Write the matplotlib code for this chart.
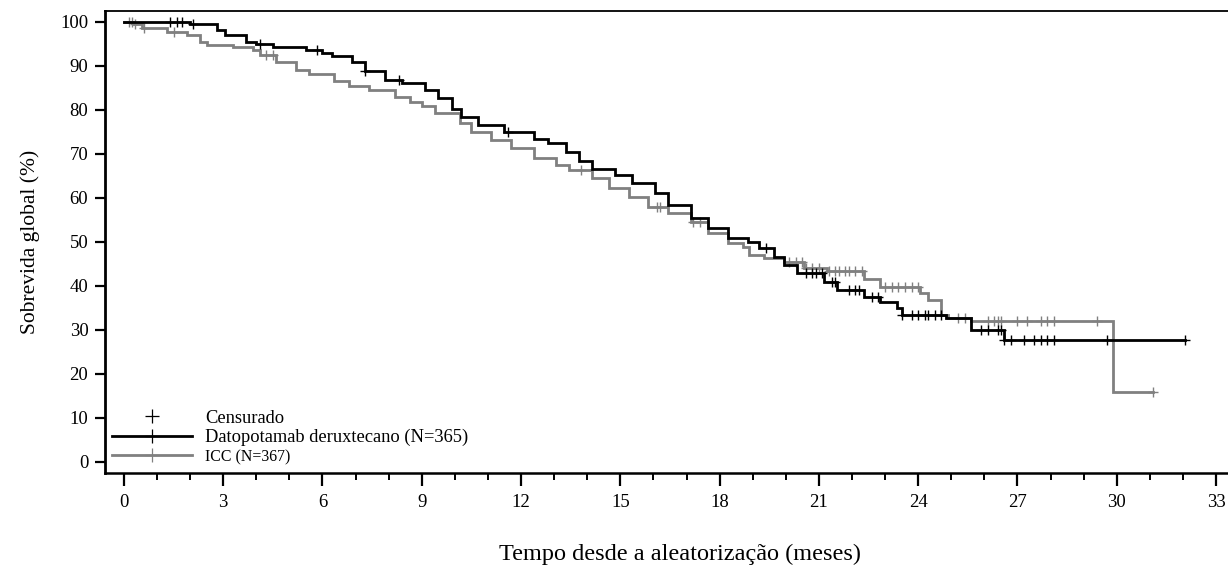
import numpy as np
import matplotlib
matplotlib.use("Agg")
import matplotlib.pyplot as plt
from matplotlib.lines import Line2D
from matplotlib.ticker import MultipleLocator

# ---- data (months, overall survival %) ----
t_dato = [0, 2.0, 2.8, 3.05, 3.7, 4.0, 4.5, 5.5, 6.0, 6.3, 6.9, 7.3, 7.9, 8.4, 9.1, 9.5,
          9.9, 10.2, 10.7, 11.5, 12.4, 12.8, 13.35, 13.75, 14.15, 14.85, 15.35, 16.05,
          16.45, 17.15, 17.65, 18.25, 18.85, 19.2, 19.65, 19.95, 20.35, 21.15, 21.55,
          22.35, 22.85, 23.35, 23.5, 24.85, 25.6, 26.6, 32.05]
s_dato = [100, 99.5, 98.2, 97.0, 95.5, 95.0, 94.4, 93.7, 92.9, 92.2, 90.8, 88.9, 86.8, 86.1,
          84.5, 82.7, 80.2, 78.5, 76.6, 75.1, 73.3, 72.4, 70.5, 68.3, 66.7, 65.2, 63.3, 61.1,
          58.4, 55.4, 53.1, 50.8, 49.9, 48.6, 46.7, 44.8, 42.9, 41.0, 39.1, 37.6, 36.4, 34.9,
          33.4, 32.7, 30.0, 27.7, 27.7]
c_dato = [1.4, 1.6, 1.75, 2.1, 4.1, 5.85, 7.3, 8.3, 11.6, 19.4, 20.6, 20.8, 20.9, 21.1,
          21.4, 21.5, 21.9, 22.1, 22.2, 22.6, 22.8, 23.5, 23.8, 24.0, 24.2, 24.3, 24.5,
          24.7, 25.9, 26.1, 26.4, 26.5, 26.6, 26.8, 27.2, 27.5, 27.7, 27.9, 28.1, 29.7, 32.05]

t_icc = [0, 0.27, 0.55, 1.3, 1.9, 2.3, 2.5, 3.3, 3.9, 4.1, 4.6, 5.2, 5.6, 6.35, 6.8, 7.4,
         8.2, 8.65, 9.0, 9.4, 10.15, 10.5, 11.1, 11.7, 12.4, 13.05, 13.45, 14.15, 14.65,
         15.25, 15.85, 16.45, 17.15, 17.65, 18.25, 18.7, 18.9, 19.35, 19.95, 20.55, 21.25,
         22.35, 22.85, 24.05, 24.3, 24.7, 24.9, 25.6, 29.9, 31.1]
s_icc = [100, 99.5, 98.6, 97.8, 97.0, 95.5, 94.8, 94.3, 93.6, 92.5, 91.0, 89.1, 88.2, 86.6,
         85.5, 84.5, 83.0, 81.8, 80.8, 79.4, 77.0, 75.1, 73.2, 71.4, 69.1, 67.5, 66.4, 64.5,
         62.2, 60.3, 58.0, 56.5, 54.6, 52.0, 49.7, 48.9, 47.0, 46.3, 45.5, 44.2, 43.5, 41.7,
         39.8, 38.4, 36.8, 33.4, 32.7, 32.0, 16.0, 16.0]
c_icc = [0.15, 0.25, 0.35, 0.6, 1.5, 4.3, 4.5, 13.8, 16.1, 16.2, 17.2, 17.4, 20.1, 20.3,
         20.5, 20.6, 20.8, 21.0, 21.3, 21.5, 21.6, 21.8, 21.9, 22.1, 22.3, 23.0, 23.2,
         23.4, 23.6, 23.8, 24.0, 25.2, 25.4, 26.1, 26.3, 26.4, 26.5, 27.0, 27.3, 27.7,
         27.9, 28.1, 29.4, 31.1]

y_ticks = list(range(0, 101, 10))
x_ticks = list(range(0, 34, 3))
label_dato = "Datopotamab deruxtecano (N=365)"
label_icc = "ICC (N=367)"
label_cens = "Censurado"
x_label = "Tempo desde a aleatorização (meses)"
y_label = "Sobrevida global (%)"

BLACK = "#000000"
GRAY = "#808080"

plt.rcParams["font.family"] = ["Liberation Serif", "DejaVu Serif"]

fig = plt.figure(figsize=(12.28, 5.69), dpi=100)
ax = fig.add_axes([105 / 1228, 96 / 569, 1123 / 1228, 462 / 569])


def step_val(t, s, x):
    t = np.asarray(t)
    s = np.asarray(s)
    idx = np.searchsorted(t, x, side="right") - 1
    return s[np.clip(idx, 0, len(s) - 1)]


for t, s, c, col in [(t_icc, s_icc, c_icc, GRAY), (t_dato, s_dato, c_dato, BLACK)]:
    ax.step(t, s, where="post", color=col, lw=2.0, solid_joinstyle="miter")
    ax.plot(c, step_val(t, s, c), linestyle="none", marker="+", ms=6.5, mew=1.0, color=col)

ax.set_xlim(-0.57, 33.36)
ax.set_ylim(-2.5, 102.5)

ax.set_yticks(y_ticks)
ax.set_xticks(x_ticks)
ax.xaxis.set_minor_locator(MultipleLocator(1))
ax.tick_params(axis="y", which="major", length=7, width=1.6, labelsize=13.5, pad=5,
               direction="out")
ax.tick_params(axis="x", which="major", length=9, width=1.6, labelsize=13.5, pad=6,
               direction="out")
ax.tick_params(axis="x", which="minor", length=5, width=1.4, direction="out")

ax.spines["right"].set_visible(False)
ax.spines["left"].set_linewidth(2.0)
ax.spines["bottom"].set_linewidth(1.8)
ax.spines["top"].set_linewidth(1.3)

ax.set_ylabel(y_label, fontsize=15.5)
ax.yaxis.set_label_coords(-0.058, 0.5)
ax.set_xlabel(x_label, fontsize=17.5)
ax.xaxis.set_label_coords(0.512, -0.154)

handles = [
    Line2D([], [], linestyle="none", marker="+", ms=10, mew=0.9, color=BLACK),
    Line2D([], [], color=BLACK, lw=2.0, marker="+", ms=10, mew=0.9),
    Line2D([], [], color=GRAY, lw=2.0, marker="+", ms=10, mew=0.9),
]
leg = ax.legend(handles, [label_cens, label_dato, label_icc], loc="lower left",
                bbox_to_anchor=(0.0, 0.0), frameon=False, fontsize=13.3, handlelength=4.3,
                handletextpad=0.7, labelspacing=0.12, borderaxespad=0.2, borderpad=0.2)
leg.get_texts()[2].set_fontsize(11.4)

fig.savefig("out.png", dpi=100)
